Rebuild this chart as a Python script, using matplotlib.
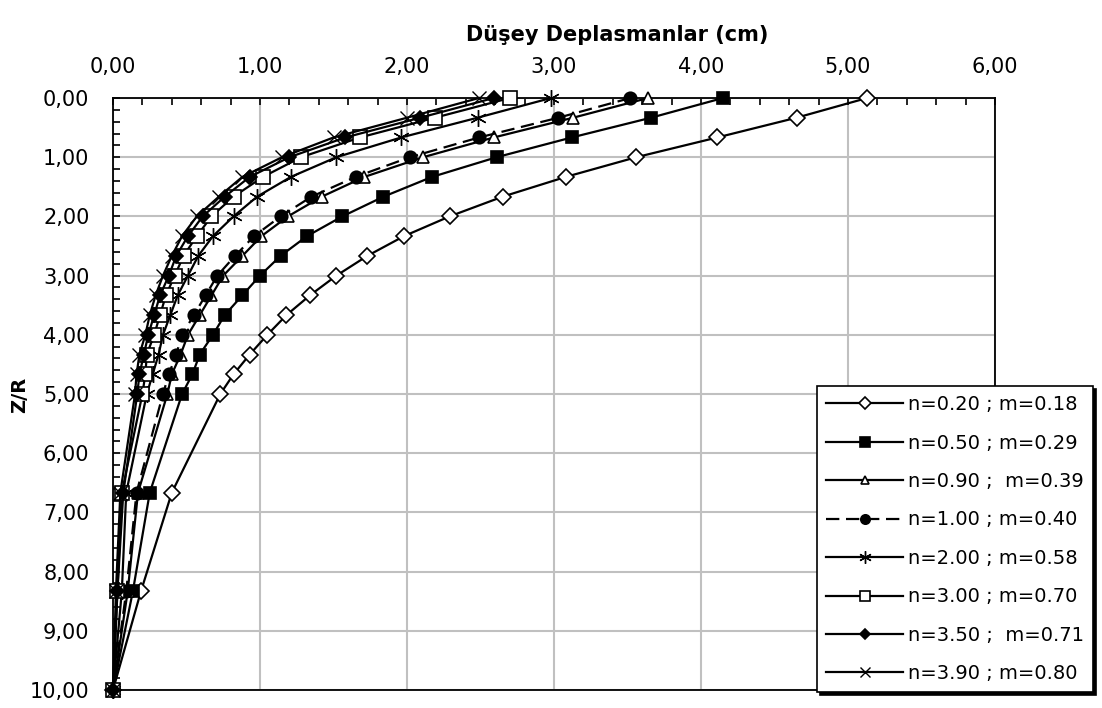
import numpy as np
import matplotlib
matplotlib.use('Agg')
import matplotlib.pyplot as plt
from matplotlib.ticker import MultipleLocator, FuncFormatter

# Z/R depth levels (rows of the chart)
zr = [0.0, 0.333, 0.667, 1.0, 1.333, 1.667, 2.0, 2.333, 2.667, 3.0,
      3.333, 3.667, 4.0, 4.333, 4.667, 5.0, 6.667, 8.333, 10.0]

# vertical displacements (cm) for each n ; m pair
d_020 = [5.13, 4.65, 4.11, 3.56, 3.08, 2.65, 2.29, 1.98, 1.73, 1.52,
         1.34, 1.18, 1.05, 0.93, 0.82, 0.73, 0.40, 0.19, 0.0]
d_050 = [4.15, 3.66, 3.12, 2.61, 2.17, 1.84, 1.56, 1.32, 1.14, 1.00,
         0.88, 0.76, 0.68, 0.59, 0.54, 0.47, 0.25, 0.135, 0.0]
d_090 = [3.64, 3.13, 2.59, 2.11, 1.71, 1.42, 1.19, 1.01, 0.88, 0.75,
         0.67, 0.59, 0.51, 0.46, 0.40, 0.37, 0.17, 0.10, 0.0]
d_100 = [3.52, 3.03, 2.49, 2.02, 1.65, 1.35, 1.14, 0.96, 0.83, 0.71,
         0.63, 0.55, 0.47, 0.43, 0.38, 0.34, 0.16, 0.09, 0.0]
d_200 = [2.98, 2.48, 1.96, 1.52, 1.21, 0.98, 0.82, 0.68, 0.58, 0.51,
         0.44, 0.39, 0.34, 0.31, 0.27, 0.23, 0.09, 0.06, 0.0]
d_300 = [2.70, 2.19, 1.68, 1.28, 1.02, 0.82, 0.67, 0.57, 0.48, 0.42,
         0.36, 0.32, 0.28, 0.23, 0.22, 0.20, 0.06, 0.03, 0.0]
d_350 = [2.59, 2.09, 1.58, 1.20, 0.93, 0.76, 0.61, 0.51, 0.43, 0.38,
         0.32, 0.28, 0.24, 0.21, 0.18, 0.165, 0.07, 0.03, 0.0]
d_390 = [2.49, 2.00, 1.50, 1.15, 0.88, 0.72, 0.57, 0.47, 0.40, 0.34,
         0.29, 0.25, 0.22, 0.18, 0.16, 0.15, 0.05, 0.02, 0.0]

labels = ['n=0.20 ; m=0.18', 'n=0.50 ; m=0.29', 'n=0.90 ;  m=0.39',
          'n=1.00 ; m=0.40', 'n=2.00 ; m=0.58', 'n=3.00 ; m=0.70',
          'n=3.50 ;  m=0.71', 'n=3.90 ; m=0.80']

fig = plt.figure(figsize=(11.02, 7.08), dpi=100)
ax = fig.add_axes([113/1102, 1-690/708, (995-113)/1102, (690-98)/708])

# marker styles for each series
styles = [
    dict(marker='D', mfc='white', ms=8),
    dict(marker='s', mfc='black', ms=9),
    dict(marker='^', mfc='white', ms=8),
    dict(marker='o', mfc='black', ms=9, ls=(0, (6, 3))),
    dict(marker=(6, 2, 0), mfc='black', ms=12, mew=1.0),
    dict(marker='s', mfc='white', ms=10),
    dict(marker='D', mfc='black', ms=7),
    dict(marker='x', mfc='black', ms=10, mew=1.0),
]
series = [d_020, d_050, d_090, d_100, d_200, d_300, d_350, d_390]

for i, (d, st, lab) in enumerate(zip(series, styles, labels)):
    st = dict(st)
    ls = st.pop('ls', '-')
    mew = st.pop('mew', 1.2)
    ax.plot(d, zr, color='black', lw=1.6, ls=ls, mec='black', mew=mew,
            label=lab, zorder=3+i, clip_on=False, **st)

ax.set_xlim(0, 6)
ax.set_ylim(10, 0)

# axis on top, comma decimals
ax.xaxis.tick_top()
fmt = FuncFormatter(lambda v, p: ('%.2f' % v).replace('.', ','))
ax.xaxis.set_major_locator(MultipleLocator(1))
ax.xaxis.set_minor_locator(MultipleLocator(0.2))
ax.yaxis.set_major_locator(MultipleLocator(1))
ax.yaxis.set_minor_locator(MultipleLocator(0.2))
ax.xaxis.set_major_formatter(fmt)
ax.yaxis.set_major_formatter(fmt)
ax.tick_params(which='both', direction='in', length=5, width=1.2,
               top=True, bottom=False, left=True, right=False, labelsize=15)
ax.tick_params(axis='x', pad=15)
ax.tick_params(axis='y', pad=17)

ax.grid(True, which='major', color='#c0c0c0', lw=1.5, zorder=0)
ax.set_axisbelow(True)
for s in ax.spines.values():
    s.set_linewidth(1.3)

fig.text(617/1102, 1-35/708, 'Düşey Deplasmanlar (cm)', ha='center',
         va='center', fontsize=15, fontweight='bold')
fig.text(20/1102, 1-395/708, 'Z/R', ha='center', va='center',
         rotation=90, fontsize=14, fontweight='bold')

leg = ax.legend(loc='lower right', bbox_to_anchor=(1093/1102, 1-692/708),
                bbox_transform=fig.transFigure, borderaxespad=0,
                fontsize=14, fancybox=False, edgecolor='black',
                framealpha=1, handlelength=4.0, handletextpad=0.25,
                labelspacing=1.0, markerscale=0.75, borderpad=0.45,
                shadow={'color': 'black', 'alpha': 1})
leg.get_frame().set_linewidth(1.2)
leg.set_zorder(20)

fig.savefig('out.png', dpi=100)
